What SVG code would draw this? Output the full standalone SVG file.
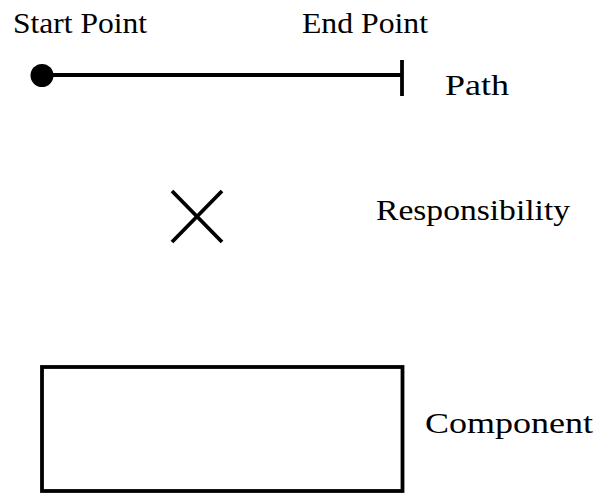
<svg xmlns="http://www.w3.org/2000/svg" width="603" height="493" viewBox="0 0 603 493">
  <style>
    .lbl { font-family: "Liberation Serif", serif; font-size: 30px; fill: #000; }
    .stroke { stroke: #000; stroke-width: 3.8; fill: none; }
  </style>
  <rect width="603" height="493" fill="#fff"/>

  <!-- path legend: start dot, line, end bar -->
  <g id="path">
    <line class="stroke" x1="42" y1="75" x2="402" y2="75"/>
    <circle cx="42" cy="75.5" r="11.5" fill="#000"/>
    <line class="stroke" x1="402" y1="60" x2="402" y2="96"/>
    <text class="lbl" x="13" y="32.5" textLength="134" lengthAdjust="spacingAndGlyphs">Start Point</text>
    <text class="lbl" x="302" y="32.5" textLength="126" lengthAdjust="spacingAndGlyphs">End Point</text>
    <text class="lbl" x="445" y="95" textLength="64" lengthAdjust="spacingAndGlyphs">Path</text>
  </g>

  <!-- responsibility legend: cross -->
  <g id="responsibility">
    <line class="stroke" x1="172" y1="191" x2="222" y2="242"/>
    <line class="stroke" x1="222" y1="191" x2="172" y2="242"/>
    <text class="lbl" x="376" y="220" textLength="194" lengthAdjust="spacingAndGlyphs">Responsibility</text>
  </g>

  <!-- component legend: box -->
  <g id="component">
    <rect class="stroke" x="42" y="367" width="360.5" height="124"/>
    <text class="lbl" x="425" y="433" textLength="168" lengthAdjust="spacingAndGlyphs">Component</text>
  </g>
</svg>
